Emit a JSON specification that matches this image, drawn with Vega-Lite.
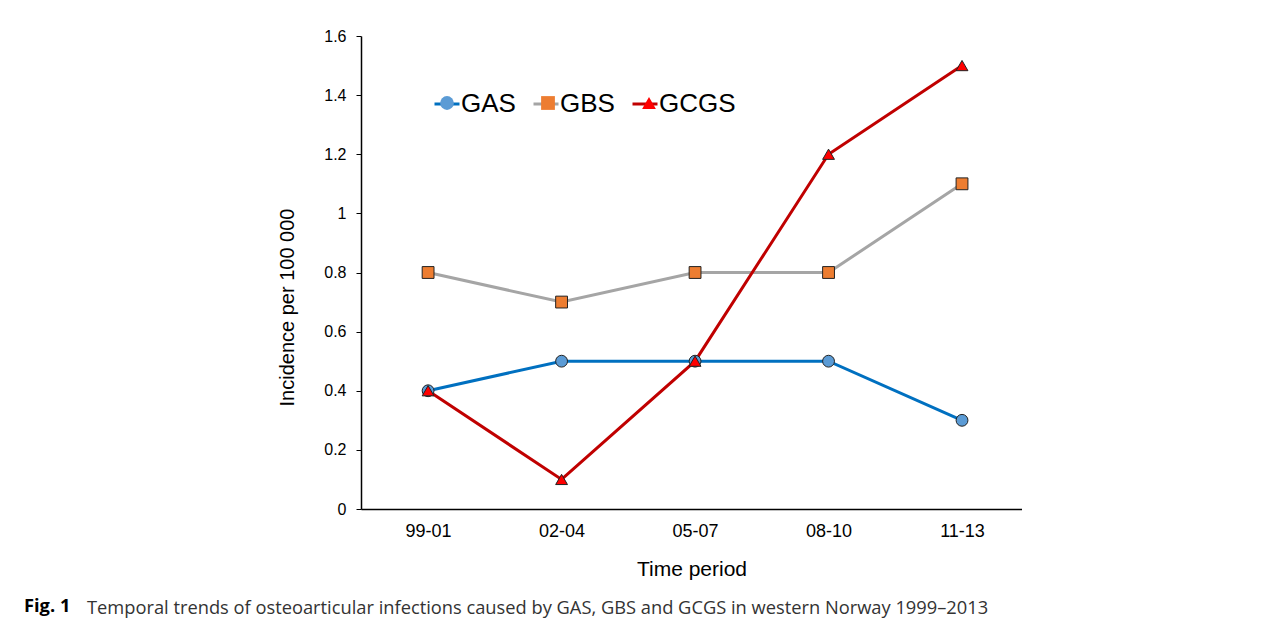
{
  "$schema": "https://vega.github.io/schema/vega-lite/v6.json",
  "autosize": {"type": "pad"},
  "padding": {"left": 24, "top": 28, "right": 0, "bottom": 0},
  "background": "white",
  "config": {
    "view": {"stroke": null},
    "axis": {"grid": false, "domainColor": "black", "domainWidth": 1.5, "tickColor": "black", "labelColor": "black", "titleColor": "black", "labelFont": "Liberation Sans", "titleFont": "Liberation Sans", "titleFontWeight": "normal"}
  },
  "title": {
    "text": "Fig. 1",
    "orient": "bottom",
    "anchor": "start",
    "frame": "group",
    "dx": -337,
    "offset": 0,
    "dy": -19,
    "font": "Open Sans",
    "fontSize": 18.3,
    "fontWeight": "bold",
    "color": "black"
  },
  "vconcat": [
    {
      "width": 661,
      "height": 473,
      "title": {
        "text": "Temporal trends of osteoarticular infections caused by GAS, GBS and GCGS in western Norway 1999–2013",
        "orient": "bottom",
        "anchor": "start",
        "frame": "group",
        "dx": -274,
        "offset": 21,
        "font": "Open Sans",
        "fontSize": 18.3,
        "fontWeight": "normal",
        "color": "#333333"
      },
      "data": {
        "values": [
          {"period": "99-01", "series": "GAS", "value": 0.4},
          {"period": "02-04", "series": "GAS", "value": 0.5},
          {"period": "05-07", "series": "GAS", "value": 0.5},
          {"period": "08-10", "series": "GAS", "value": 0.5},
          {"period": "11-13", "series": "GAS", "value": 0.3},
          {"period": "99-01", "series": "GBS", "value": 0.8},
          {"period": "02-04", "series": "GBS", "value": 0.7},
          {"period": "05-07", "series": "GBS", "value": 0.8},
          {"period": "08-10", "series": "GBS", "value": 0.8},
          {"period": "11-13", "series": "GBS", "value": 1.1},
          {"period": "99-01", "series": "GCGS", "value": 0.4},
          {"period": "02-04", "series": "GCGS", "value": 0.1},
          {"period": "05-07", "series": "GCGS", "value": 0.5},
          {"period": "08-10", "series": "GCGS", "value": 1.2},
          {"period": "11-13", "series": "GCGS", "value": 1.5}
        ]
      },
      "encoding": {
        "x": {
          "field": "period",
          "type": "nominal",
          "sort": ["99-01", "02-04", "05-07", "08-10", "11-13"],
          "scale": {"type": "point", "padding": 0.476, "align": 0.528},
          "axis": {
            "title": "Time period",
            "labelAngle": 0,
            "ticks": false,
            "tickSize": 0,
            "labelFontSize": 18,
            "labelPadding": 13,
            "titleFontSize": 21,
            "titlePadding": 18
          }
        },
        "y": {
          "field": "value",
          "type": "quantitative",
          "scale": {"domain": [0, 1.6], "nice": false, "zero": true},
          "axis": {
            "title": "Incidence per 100 000",
            "values": [0, 0.2, 0.4, 0.6, 0.8, 1, 1.2, 1.4, 1.6],
            "format": ".1~f",
            "tickSize": 5,
            "labelFontSize": 16,
            "labelPadding": 10,
            "titleFontSize": 20,
            "titleX": -74,
            "titleY": 271,
            "titleAlign": "center",
            "titleBaseline": "middle"
          }
        }
      },
      "layer": [
        {
          "mark": {"type": "line", "strokeWidth": 3},
          "encoding": {
            "stroke": {
              "field": "series",
              "type": "nominal",
              "scale": {"range": ["#0070C0", "#A5A5A5", "#C00000"]},
              "legend": {
                "title": null,
                "orient": "none",
                "direction": "horizontal",
                "legendX": 72,
                "legendY": 54,
                "padding": 0,
                "symbolType": "stroke",
                "symbolSize": 625,
                "symbolStrokeWidth": 3,
                "labelFont": "Liberation Sans",
                "labelFontSize": 26,
                "labelColor": "black",
                "labelOffset": 0,
                "columnPadding": 11
              }
            }
          }
        },
        {
          "mark": {"type": "point", "filled": true, "size": 140, "stroke": "#222222", "strokeWidth": 1, "opacity": 1},
          "encoding": {
            "fill": {
              "field": "series",
              "type": "nominal",
              "scale": {"domain": ["GAS", "GBS", "GCGS"], "range": ["#5B9BD5", "#ED7D31", "#FF0000"]},
              "legend": {
                "title": null,
                "orient": "none",
                "direction": "horizontal",
                "legendX": 73,
                "legendY": 54,
                "padding": 0,
                "symbolSize": 190,
                "symbolStrokeColor": "#222222",
                "symbolStrokeWidth": 1,
                "symbolOpacity": 1,
                "labelFont": "Liberation Sans",
                "labelFontSize": 26,
                "labelOpacity": 0,
                "labelOffset": 9,
                "columnPadding": 11
              }
            },
            "shape": {
              "field": "series",
              "type": "nominal",
              "scale": {"domain": ["GAS", "GBS", "GCGS"], "range": ["circle", "square", "triangle-up"]},
              "legend": {
                "title": null,
                "orient": "none",
                "direction": "horizontal",
                "legendX": 73,
                "legendY": 54,
                "padding": 0,
                "symbolSize": 190,
                "symbolStrokeColor": "#222222",
                "symbolStrokeWidth": 1,
                "symbolOpacity": 1,
                "labelFont": "Liberation Sans",
                "labelFontSize": 26,
                "labelOpacity": 0,
                "labelOffset": 9,
                "columnPadding": 11
              }
            }
          }
        }
      ]
    }
  ]
}
